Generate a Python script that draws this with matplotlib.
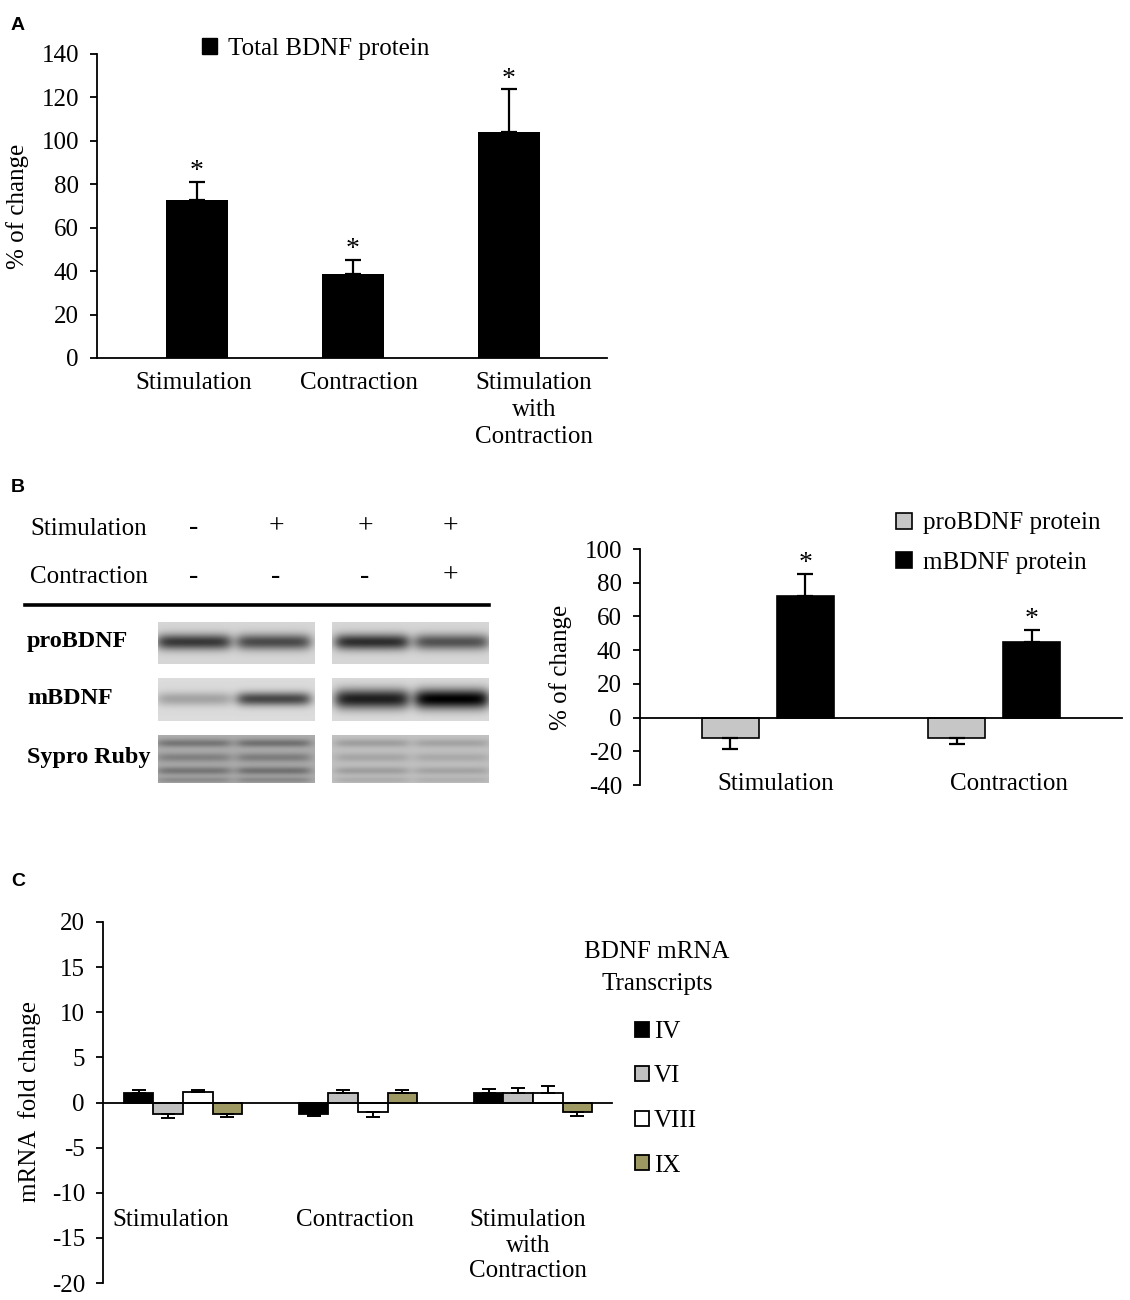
import numpy as np
import matplotlib
matplotlib.use("Agg")
import matplotlib.pyplot as plt
from matplotlib.patches import Patch
from matplotlib.lines import Line2D

plt.rcParams['font.family'] = ['Liberation Serif', 'DejaVu Serif']
plt.rcParams['axes.linewidth'] = 1.3
plt.rcParams['axes.unicode_minus'] = False

W, H = 1130, 1300
FS = 18

# ---------------- data ----------------
# Panel A
a_categories = ["Stimulation", "Contraction", "Stimulation\nwith\nContraction"]
a_values = [72.8, 38.8, 104.0]
a_errors = [8.4, 6.5, 19.9]
a_yticks = [0, 20, 40, 60, 80, 100, 120, 140]

# Panel B (blot annotation)
b_stim_signs = ["-", "+", "+", "+"]
b_contr_signs = ["-", "-", "-", "+"]
b_rows = ["proBDNF", "mBDNF", "Sypro Ruby"]
b_pro_band = [0.62, 0.55, 0.66, 0.52]
b_m_band = [0.22, 0.58, 0.74, 0.86]
b_sypro_band = [0.22, 0.24, 0.14, 0.12]

# Panel B (chart)
b_categories = ["Stimulation", "Contraction"]
b_pro_values = [-12.3, -12.0]
b_pro_errors = [6.1, 3.7]
b_m_values = [72.4, 45.1]
b_m_errors = [13.0, 7.1]
b_yticks = [-40, -20, 0, 20, 40, 60, 80, 100]

# Panel C
c_categories = ["Stimulation", "Contraction", "Stimulation\nwith\nContraction"]
c_series = ["IV", "VI", "VIII", "IX"]
c_values = {
    "IV":   [1.1, -1.22, 1.1],
    "VI":   [-1.25, 1.1, 1.1],
    "VIII": [1.18, -1.07, 1.1],
    "IX":   [-1.25, 1.1, -1.1],
}
c_errors = {
    "IV":   [0.34, 0.28, 0.45],
    "VI":   [0.52, 0.34, 0.56],
    "VIII": [0.26, 0.52, 0.7],
    "IX":   [0.34, 0.34, 0.38],
}
c_colors = {"IV": "#000000", "VI": "#c0c0c0", "VIII": "#ffffff", "IX": "#9e9962"}
c_yticks = [-20, -15, -10, -5, 0, 5, 10, 15, 20]

# ---------------- helpers ----------------
fig = plt.figure(figsize=(W / 100, H / 100), dpi=100)


def fx(x):
    return x / W


def fy(y):
    return 1 - y / H


def axes_px(l, t, r, b):
    return fig.add_axes([l / W, 1 - b / H, (r - l) / W, (b - t) / H])


def one_sided(vals, errs):
    lower = [e if v < 0 else 0 for v, e in zip(vals, errs)]
    upper = [e if v >= 0 else 0 for v, e in zip(vals, errs)]
    return [lower, upper]


def style_axis(ax):
    for s in ["top", "right"]:
        ax.spines[s].set_visible(False)
    ax.tick_params(axis='y', direction='out', length=5, width=1.3, labelsize=FS, pad=8)
    ax.tick_params(axis='x', length=0, labelsize=FS)


# panel letters
for letter, y in [("A", 25), ("B", 487), ("C", 881)]:
    fig.text(fx(11), fy(y), letter, fontsize=14, fontweight='bold',
             family=['Liberation Sans', 'DejaVu Sans'], va='center', ha='left')

# ================= Panel A =================
axA = axes_px(97, 54, 607, 358)
xa = np.arange(len(a_categories))
axA.bar(xa, a_values, width=0.40, color='black', zorder=2)
axA.errorbar(xa, a_values, yerr=one_sided(a_values, a_errors), fmt='none',
             ecolor='black', elinewidth=1.6, capsize=6, capthick=1.6, zorder=3)
for x, v, e in zip(xa, a_values, a_errors):
    axA.annotate("*", (x, v + e), xytext=(0, -2), textcoords='offset points',
                 ha='center', va='bottom', fontsize=FS + 2)
axA.set_xlim(-0.641, 2.628)
axA.set_ylim(0, 140)
axA.set_yticks(a_yticks)
axA.set_xticks(xa + np.array([-0.02, 0.04, 0.16]))
axA.set_xticklabels(a_categories, linespacing=1.3)
style_axis(axA)
axA.tick_params(axis='x', pad=10)
axA.spines['left'].set_bounds(0, 140)
fig.text(fx(18), fy(206), "% of change", rotation=90, ha='center', va='center', fontsize=FS)
axA.legend(handles=[Patch(facecolor='black', edgecolor='black')], labels=["Total BDNF protein"],
           loc='center left', bbox_to_anchor=(fx(202), fy(49)), bbox_transform=fig.transFigure,
           frameon=False, fontsize=FS, handlelength=0.6, handleheight=0.6,
           handletextpad=0.45, borderpad=0, borderaxespad=0)

# ================= Panel B : blot =================
sign_x = [194, 276, 365, 450]
fig.text(fx(30), fy(529), "Stimulation", ha='left', va='center', fontsize=FS)
fig.text(fx(30), fy(577), "Contraction", ha='left', va='center', fontsize=FS)
for x, s in zip(sign_x, b_stim_signs):
    fig.text(fx(x), fy(527), s, ha='center', va='center', fontsize=FS + 2)
for x, s in zip(sign_x, b_contr_signs):
    fig.text(fx(x), fy(576), s, ha='center', va='center', fontsize=FS + 2)
fig.add_artist(Line2D([fx(25), fx(489)], [fy(605), fy(605)], color='black', lw=2.6))
for y, lab in zip([641, 698, 758], b_rows):
    fig.text(fx(27), fy(y), lab, ha='left', va='center', fontsize=FS - 0.6, fontweight='bold')

axBl = axes_px(150, 612, 495, 790)
axBl.set_xlim(150, 495)
axBl.set_ylim(790, 612)
axBl.axis('off')

lane_x = [194, 274, 372, 452]
blocks = [(158, 315, [0, 1]), (332, 489, [2, 3])]


def draw_block(x0, x1, y0, y1, lanes, amps, bands, bg):
    xs = np.arange(x0, x1) + 0.5
    ys = np.arange(y0, y1) + 0.5
    X, Y = np.meshgrid(xs, ys)
    img = np.full(X.shape, bg, dtype=float)
    for cx, a in zip(lanes, amps):
        wx = 1.0 / (1.0 + np.exp((np.abs(X - cx) - 36) / 3.5))
        for yc, sy, k in bands:
            img -= a * k * wx * np.exp(-((Y - yc) / sy) ** 2)
    img = np.clip(img, 0, 1)
    axBl.imshow(img, cmap='gray', vmin=0, vmax=1, extent=(x0, x1, y1, y0),
                interpolation='bilinear', aspect='auto')


for x0, x1, idx in blocks:
    lanes = [lane_x[i] for i in idx]
    draw_block(x0, x1, 622, 664, lanes, [b_pro_band[i] for i in idx],
               [(642, 8, 1.0)], 0.84)
    draw_block(x0, x1, 678, 721, lanes, [b_m_band[i] for i in idx],
               [(699, 7 + 3 * (x0 > 300), 1.0)], 0.86)
    bg = 0.68 if x0 < 300 else 0.76
    draw_block(x0, x1, 736, 783, lanes, [b_sypro_band[i] for i in idx],
               [(744, 4, 1.0), (758, 4.5, 0.8), (771, 4, 1.0), (780, 3, 0.6)], bg)

# ================= Panel B : chart =================
axB = axes_px(640, 549, 1122, 785)
xb = np.arange(len(b_categories))
off = 0.166
bw = 0.252
axB.bar(xb - off, b_pro_values, width=bw, color='#c6c6c6', edgecolor='black', linewidth=1.2,
        zorder=2, label="proBDNF protein")
axB.bar(xb + off, b_m_values, width=bw, color='black', edgecolor='black', linewidth=1.2,
        zorder=2, label="mBDNF protein")
axB.errorbar(xb - off, b_pro_values, yerr=one_sided(b_pro_values, b_pro_errors), fmt='none',
             ecolor='black', elinewidth=1.6, capsize=6, capthick=1.6, zorder=3)
axB.errorbar(xb + off, b_m_values, yerr=one_sided(b_m_values, b_m_errors), fmt='none',
             ecolor='black', elinewidth=1.6, capsize=6, capthick=1.6, zorder=3)
for x, v, e in zip(xb + off, b_m_values, b_m_errors):
    axB.annotate("*", (x, v + e), xytext=(0, -2), textcoords='offset points',
                 ha='center', va='bottom', fontsize=FS + 2)
axB.set_xlim(-0.566, 1.566)
axB.set_ylim(-40, 100)
axB.set_yticks(b_yticks)
axB.set_xticks(xb + np.array([0.035, 0.066]))
axB.set_xticklabels(b_categories)
style_axis(axB)
axB.spines['bottom'].set_position(('data', 0))
axB.tick_params(axis='x', pad=40)
fig.text(fx(561), fy(667), "% of change", rotation=90, ha='center', va='center', fontsize=FS)
axB.legend(loc='center left', bbox_to_anchor=(fx(896), fy(543)), bbox_transform=fig.transFigure,
           frameon=False, fontsize=FS, handlelength=0.62, handleheight=0.62,
           handletextpad=0.45, borderpad=0, borderaxespad=0, labelspacing=0.68)

# ================= Panel C =================
axC = axes_px(103, 922, 612, 1283)
xc = np.arange(len(c_categories))
cw = 0.169
for i, s in enumerate(c_series):
    pos = xc + (i - 1.5) * cw
    axC.bar(pos, c_values[s], width=cw, color=c_colors[s], edgecolor='black',
            linewidth=1.3, zorder=2, label=s)
    axC.errorbar(pos, c_values[s], yerr=one_sided(c_values[s], c_errors[s]), fmt='none',
                 ecolor='black', elinewidth=1.4, capsize=5, capthick=1.4, zorder=3)
axC.set_xlim(-0.457, 2.451)
axC.set_ylim(-20, 20)
axC.set_yticks(c_yticks)
axC.set_xticks(xc + np.array([-0.07, -0.02, -0.03]))
axC.set_xticklabels(c_categories, linespacing=1.2)
style_axis(axC)
axC.spines['bottom'].set_position(('data', 0))
axC.tick_params(axis='x', pad=77)
fig.text(fx(30), fy(1102), "mRNA  fold change", rotation=90, ha='center', va='center', fontsize=FS)
fig.text(fx(657), fy(968), "BDNF mRNA\nTranscripts", ha='center', va='center',
         fontsize=FS, linespacing=1.55)
axC.legend(loc='upper left', bbox_to_anchor=(fx(635), fy(1021)), bbox_transform=fig.transFigure,
           frameon=False, fontsize=FS, handlelength=0.55, handleheight=0.55,
           handletextpad=0.2, borderpad=0, borderaxespad=0, labelspacing=0.9)

fig.savefig("out.png", dpi=100)
